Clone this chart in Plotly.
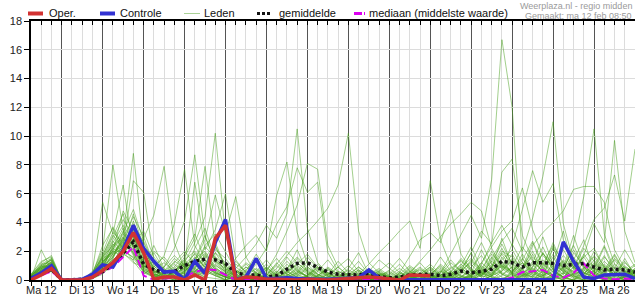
import plotly.graph_objects as go
import pandas as pd

# ---------------- data ----------------
start = "2018-02-12 06:00"
n_steps = 60
step = "6h"

day_labels = ["Ma 12", "Di 13", "Wo 14", "Do 15", "Vr 16", "Za 17", "Zo 18", "Ma 19",
              "Di 20", "Wo 21", "Do 22", "Vr 23", "Za 24", "Zo 25", "Ma 26"]
day_dates = ["2018-02-%02d" % d for d in range(12, 27)]

oper = [0.0, 0.35, 0.8,
        0, 0, 0, 0.2,
        0.65, 1.2, 2.0, 3.3,
        1.9, 0.05, 0.2, 0.2,
        0.0, 0.35, 0.0, 2.9,
        3.8, 0.0, 0.2, 0.15,
        0.05, 0.05, 0, 0,
        0.05, 0, 0, 0.05,
        0.1, 0.15, 0.2, 0.15,
        0.05, 0.0, 0.35, 0.3,
        0.3]

controle = [0.1, 0.5, 1.0,
            0, 0, 0.05, 0.4,
            1.05, 0.9, 2.1, 3.8,
            2.2, 1.3, 0.55, 0.6,
            0.05, 1.3, 0.45, 2.6,
            4.2, 0.05, 0.2, 1.5,
            0.1, 0.1, 0.15, 0.1,
            0.05, 0.05, 0.05, 0.1,
            0.1, 0.15, 0.7, 0.15,
            0.02, 0.02, 0.02, 0.02,
            0.02, 0.02, 0.02, 0.02,
            0.02, 0.02, 0.02, 0.02,
            0.02, 0.02, 0.02, 0.02,
            0.02, 2.65, 1.3, 0.2,
            0.1, 0.35, 0.4, 0.4,
            0.1]

gemiddelde = [0.1, 0.4, 0.75,
              0.0, 0.0, 0.05, 0.25,
              0.6, 1.1, 1.9, 2.65,
              1.1, 0.7, 0.55, 0.6,
              1.0, 1.3, 1.45, 1.4,
              1.15, 0.5, 0.35, 0.35,
              0.2, 0.3, 0.75, 1.15,
              1.2, 0.9, 0.55, 0.4,
              0.4, 0.35, 0.45, 0.25,
              0.15, 0.2, 0.35, 0.4,
              0.4, 0.3, 0.4, 0.62,
              0.5, 0.6, 0.75, 1.3,
              1.2, 0.9, 1.2, 1.2,
              1.15, 1.0, 1.05, 1.15,
              0.9, 0.7, 0.75, 0.7,
              0.55]

mediaan = [0.05, 0.3, 0.6,
           0, 0, 0, 0.15,
           0.5, 0.9, 1.6, 2.3,
           0.3, 0.02, 0.1, 0.15,
           0.2, 0.55, 0.75, 0.7,
           0.35, 0.0, 0.05, 0.05,
           0.0, 0.02, 0.02, 0.02,
           0.02, 0.02, 0.02, 0.02,
           0.02, 0.02, 0.02, 0.02,
           0.02, 0.02, 0.02, 0.02,
           0.02, 0.02, 0.02, 0.02,
           0.03, 0.03, 0.05, 0.05,
           0.15, 0.55, 0.6, 0.7,
           0.3, 0.15, 0.5, 1.15,
           0.3, 0.1, 0.05, 0.1,
           0.05]

leden = [
    [0.2,0.8,1.2, 0,0,0,0.3, 1.5,2.8,4.2,3.1, 1.2,0.4,0.2,0.6, 1.1,1.8,0.9,0.5, 0.2,0,0.1,0.3, 0.1,0,0.4,1.2, 0.6,0.2,0,0, 0.1,0.3,0,0, 0,0.2,0.8,0.3, 0,0,0.5,1.4, 0.6,0.2,1.0,2.2, 0.8,0.3,0,0.6, 1.8,0.7,0.2,0.4, 1.1,0.3,0,0.2, 0.5],
    [0.1,0.6,0.9, 0,0,0,0.5, 2.1,8.0,3.5,1.8, 0.6,0.2,0,0.3, 0.8,0.4,1.5,2.6, 0.9,0.3,0,0, 0,0.2,0,0.1, 0.3,0.8,0.2,0, 0,0,0.1,0.4, 0.2,0,0,0, 0.1,0.6,0.2,0, 0,0.4,1.3,0.8, 2.5,1.2,0.3,0, 0.2,0.9,3.1,1.0, 0.4,0,0.2,1.5, 0.3],
    [0.3,1.0,1.4, 0,0,0,0.2, 0.9,1.6,3.0,8.8, 2.4,0.8,0.3,0, 0.2,0.6,1.2,0.4, 0,0,0.6,1.8, 0.7,0.2,0,0, 0,0.1,0.5,0.2, 0.8,1.9,0.4,0, 0,0,0.2,0, 0,0.3,0.9,0.2, 0.1,0.5,0.2,1.6, 0.4,0,0.9,2.3, 0.8,0.2,0,0.6, 2.0,0.9,0.4,0, 0.1],
    [0.1,0.5,1.1, 0,0,0,0.6, 5.4,3.2,6.6,2.1, 0.9,1.3,0.5,0.1, 0,0.3,0.8,1.9, 1.2,0.4,0.1,0, 0,0.5,1.6,0.7, 0.2,0,0,0.3, 0.1,0,0,0, 0.4,1.1,0.3,0, 0,0,0.2,0.7, 1.9,0.5,0,0.3, 0.9,0.4,0.2,1.2, 0.3,0,1.4,2.8, 0.6,0.1,0,0.3, 0.8],
    [0.4,1.3,1.6, 0,0,0,0.1, 0.6,1.9,2.5,6.9, 6.1,1.4,0.6,0.2, 0.5,1.5,2.0,0.9, 0.3,0.1,0,0.2, 0.9,0.3,0,0, 0,0.6,1.4,0.5, 0,0,0,0.2, 0.1,0,0.5,1.2, 0.4,0,0,0.1, 0.3,1.2,0.6,0, 0,0.7,1.8,0.4, 0.1,0.5,0.2,0.9, 0.3,1.6,0.8,0.2, 0],
    [0.2,0.7,0.8, 0,0,0,0.4, 1.2,2.2,1.8,1.4, 2.9,4.5,7.9,2.6, 0.8,0.3,0.5,1.1, 0.4,0,0,0.3, 0.2,0,0.7,2.1, 0.5,0.1,0,0, 0.3,0.7,0.2,0, 0,0,0,0.3, 0.8,0.2,0,0, 0.5,2.1,0.7,0.2, 0,0.3,0.6,0.1, 1.2,3.4,0.8,0.2, 0,0.4,1.1,0.6, 0.2],
    [0,0.4,0.7, 0,0,0,0.2, 0.8,1.4,2.0,3.3, 1.8,0.9,1.7,3.9, 7.7,2.4,1.1,0.6, 0.2,0.6,0.3,0, 0,0,0.1,0.4, 1.3,0.6,0.2,0, 0,0,0.4,0.1, 0,0.5,0.2,0, 0,0,0.3,0.9, 0.2,0,0,0.6, 1.4,0.5,0.1,0, 0.4,1.1,0.3,0, 0.7,2.3,0.5,0.1, 0.4],
    [0.3,0.9,1.0, 0,0,0,0.3, 1.1,2.6,3.8,2.7, 1.0,0.5,0.9,2.2, 4.1,8.7,3.0,1.3, 0.5,0.1,0,0, 0.3,1.2,0.4,0, 0,0,0.2,0.9, 0.3,0,0,0, 0.2,0.6,0.1,0, 0.4,1.0,0.3,0, 0,0.3,0.9,0.4, 0.1,0,0.5,1.9, 0.7,0.2,0,0.3, 0.9,0.2,0,0.6, 1.1],
    [0.1,0.6,1.3, 0,0,0,0.1, 0.5,1.2,2.4,4.6, 2.2,0.7,0.2,0.5, 1.6,2.9,7.9,2.4, 0.8,0.3,0.1,0, 0,0,0.3,0.8, 0.2,0,0,0.1, 0.5,1.3,0.4,0, 0,0.2,0.7,0.3, 0,0,0,0.4, 1.1,0.3,0.1,0, 0.6,1.5,0.4,0.2, 0,0.8,2.4,0.9, 0.3,0,0.5,1.3, 0.4],
    [0.2,0.5,0.6, 0,0,0,0.4, 1.8,3.1,2.2,1.5, 0.6,0.3,0.1,0.4, 1.2,2.6,4.4,10.2, 3.1,0.9,0.4,0.2, 0,0,0.6,0.2, 0,0.3,0.8,0.2, 0,0,0.1,0.5, 0.3,0,0,0, 0.2,0.8,0.3,0, 0,0.6,2.0,0.8, 0.3,0,0,0.4, 1.6,0.5,0.1,0, 0.2,0.9,0.3,0, 0.2],
    [0.3,1.1,1.5, 0,0,0,0.2, 0.7,1.5,3.4,2.0, 0.8,1.9,0.7,0.3, 1.0,6.8,2.1,3.5, 6.0,1.4,0.5,0.1, 0.4,0,0,0.3, 0.9,0.4,0,0, 0,0.2,0.6,0.2, 0,0,0.3,0.8, 0.3,0,0,0.2, 0.7,0.2,0.4,1.3, 0.5,0.2,1.1,0.3, 0,0.2,0.7,1.6, 0.5,0.1,0,0.2, 0.6],
    [0.1,0.4,0.9, 0,0,0,0.3, 1.3,2.0,1.6,3.6, 1.5,0.4,0,0.2, 0.6,1.3,2.8,5.9, 3.2,5.8,1.6,0.4, 0.1,0,0.2,0.6, 0.3,0,0,0.2, 0.7,0.3,0,0, 0.1,0.4,0,0, 0,0.2,0.6,0.3, 0,0,0.3,0.7, 1.8,0.6,0.2,0, 0.3,1.3,0.4,0.1, 0,0.6,1.7,0.5, 0.1],
    [0.2,0.8,1.1, 0,0,0,0.1, 0.4,1.1,1.9,2.8, 1.2,0.6,0.3,0.8, 1.4,0.7,0.3,1.0, 0.6,1.5,2.4,3.1, 2.0,5.9,8.2,3.3, 1.1,0.4,0.1,0, 0.2,0,0,0.3, 0.5,0.1,0,0, 0,0,0.4,1.1, 0.4,0.9,0.3,0, 0,0.4,1.3,0.6, 0.2,0,0.5,1.8, 0.8,0.3,0.1,0, 0.3],
    [0.3,0.9,1.2, 0,0,0,0.5, 1.6,2.4,3.0,1.7, 0.5,0.2,0.4,1.3, 0.9,0.5,1.8,0.7, 0.3,0.8,1.6,2.5, 3.8,2.9,4.6,10.5, 3.6,1.2,0.5,0.1, 0,0.3,0.1,0, 0,0,0.6,0.2, 0.1,0.4,0,0, 0.3,0,0.8,2.9, 1.0,0.4,0,0.3, 0.6,0.2,0.9,0.4, 1.4,0.5,0,0.2, 0.7],
    [0.1,0.7,1.0, 0,0,0,0.2, 0.9,1.7,2.3,3.9, 2.6,1.0,0.2,0, 0.4,1.1,0.6,0.3, 0,0.2,0.7,1.4, 0.6,1.8,3.4,5.2, 8.1,7.7,2.4,0.9, 0.3,0.1,0,0.4, 0.2,0,0.3,0.1, 0,0.7,0.2,0, 0.2,0.5,1.6,0.4, 0.1,0.8,2.6,0.9, 0.3,0,0.4,0.7, 0.2,1.0,0.4,0, 0.3],
    [0.2,0.6,0.8, 0,0,0,0.3, 1.0,2.0,4.8,3.4, 0.7,0.3,0.1,0.4, 0.8,1.6,0.9,0.5, 0.2,0,0.3,1.1, 2.2,3.9,5.1,7.8, 6.1,6.8,1.9,0.6, 0.2,0,0.5,0.2, 0,0.3,0.1,0, 0,0,0.2,0.6, 1.3,0.5,0.2,0, 0.4,1.2,0.5,0.1, 2.3,0.7,0.2,0, 0.4,0.1,0.9,0.3, 0.5],
    [0.4,1.2,1.7, 0,0,0,0.2, 0.8,2.3,2.9,2.4, 1.1,0.4,0.2,0.6, 1.3,0.6,0.2,0.1, 0,0.3,0.9,0.5, 0.2,0.8,1.7,2.6, 3.3,4.1,5.0,6.6, 10.2,3.4,1.2,0.5, 0.2,0,0,0.4, 0.9,0.3,0,0, 0.2,0.6,0.3,1.0, 0.4,0.1,0,0.7, 2.2,0.8,0.3,0, 0.6,1.7,0.5,0.1, 0.2],
    [0.1,0.5,0.7, 0,0,0,0.4, 1.4,2.7,1.9,1.2, 0.9,2.4,0.8,0.2, 0.5,0.9,1.4,0.6, 0.2,0,0,0.4, 0.9,0.3,0.1,0.5, 1.6,0.8,0.3,0, 0,0.4,1.1,1.9, 2.6,3.4,4.1,2.2, 6.9,2.8,1.0,0.3, 0.1,0,0.3,1.2, 0.5,0.2,0.6,1.9, 0.7,0.1,0,0.4, 1.2,0.4,0,0.3, 0.6],
    [0.2,0.8,1.0, 0,0,0,0.1, 0.6,1.3,2.1,4.1, 1.9,0.6,0.2,0, 0.3,0.8,1.7,0.7, 0.3,0.1,0,0.2, 0,0.4,0.9,0.3, 0.1,0,0.2,0.6, 0.3,0,0,0.2, 0.7,1.5,0.6,0.1, 0,0.5,1.8,3.2, 4.5,2.9,7.0,16.7, 12.0,1.5,0.6,0.2, 0,0.4,1.6,0.5, 0.2,0,0.8,2.1, 0.9],
    [0.3,1.0,1.4, 0,0,0,0.3, 1.1,2.2,3.6,2.3, 0.8,0.3,0.6,1.5, 0.9,0.4,1.0,2.3, 1.0,0.2,0,0, 0.3,1.0,0.4,0.1, 0,0.2,0.7,0.3, 0,0,0.4,0.8, 0.3,0,0,0.5, 1.1,0.4,0.1,0.6, 1.9,3.4,2.5,7.5, 8.4,3.1,1.4,0.6, 0.2,0.9,2.1,0.8, 0.3,0,0.4,1.0, 0.4],
    [0.1,0.3,0.6, 0,0,0,0.2, 0.7,1.0,2.7,3.1, 1.4,0.5,0.1,0.3, 0.7,1.9,0.8,0.3, 0,0.4,1.1,0.5, 0.1,0,0.3,0.9, 0.4,0.1,0,0, 0.2,0.6,0.3,0, 0,0.1,0.5,0.2, 0,0.3,1.2,0.6, 0.2,1.1,2.6,3.8, 2.4,4.9,7.6,5.4, 6.7,2.8,0.9,0.3, 0.1,0.6,1.4,0.5, 0.2],
    [0.2,0.7,1.3, 0,0,0,0.4, 1.7,3.3,2.6,1.9, 0.6,0.2,0.5,0.9, 1.8,3.2,1.4,0.5, 0.2,0,0,0.3, 0.6,0.2,0,0, 0.3,1.1,0.4,0.1, 0,0,0.2,0.5, 0.1,0,0.4,0.9, 0.3,0,0,0.2, 0.6,0.3,1.5,2.7, 3.6,2.0,4.3,7.2, 11.0,3.9,1.3,0.5, 0.9,2.4,0.8,0.2, 0.5],
    [0.3,0.9,1.1, 0,0,0,0.2, 0.9,1.8,2.8,4.4, 3.0,1.1,0.4,0.1, 0.3,0.7,2.3,1.6, 0.6,0.2,0.1,0.6, 1.4,0.5,0,0.2, 0.8,0.3,0,0, 0.1,0.5,0.2,0, 0,0,0.3,0.1, 0.5,1.6,0.6,0, 0,0.4,0.9,1.8, 0.7,0.3,1.2,3.0, 1.1,0.6,2.5,5.8, 10.5,3.2,1.1,0.4, 0.2],
    [0.1,0.6,1.0, 0,0,0,0.3, 1.3,2.5,1.7,2.9, 1.7,0.7,0.2,0.5, 1.1,0.5,0.2,0.8, 0.4,1.3,0.5,0, 0,0.3,1.1,0.4, 0.1,0,0.4,1.3, 0.5,0.2,0,0, 0.3,0.8,0.3,0, 0,0,0.4,1.0, 2.3,0.8,0.3,0.6, 1.5,0.5,0.2,0.9, 2.6,1.0,0.4,1.7, 3.9,2.6,9.7,3.4, 1.2],
    [0.2,0.5,0.8, 0,0,0,0.1, 0.5,1.4,2.0,3.5, 2.1,0.8,0.3,0.2, 0.6,1.4,3.1,1.2, 0.5,0.1,0,0, 0.2,0.6,0.2,0, 0,0.3,0.9,0.4, 0.1,0,0.3,0.7, 0.2,0,0,0.3, 0.7,0.2,0,0.5, 1.4,0.6,0.2,0, 0.5,1.8,0.7,0.3, 1.0,2.1,0.9,2.4, 4.2,5.0,7.3,4.1, 9.1],
    [0.3,1.1,1.2, 0,0,0,0.5, 1.9,3.7,2.3,1.3, 0.4,0.9,1.6,0.7, 0.2,0.6,1.1,0.5, 0.2,0.7,0.3,0, 0,0,0.5,1.5, 0.7,0.2,0,0, 0.4,0.9,0.3,0, 0,0.2,0.6,0.2, 0,0,0.3,0.8, 0.3,1.0,0.4,1.9, 1.2,0.5,2.4,3.3, 4.0,4.8,6.3,6.5, 6.5,5.4,2.1,0.8, 0.4],
    [0.1,2.1,0.7, 0,0,0,0.2, 1.0,2.1,3.2,2.5, 1.3,0.5,0.1,0.6, 1.2,0.8,0.4,1.5, 0.7,0.2,0,0.4, 0.8,0.3,0,0, 0.2,0.7,0.3,0, 0,0.3,0.8,0.4, 0.1,0,0.5,1.3, 2.1,3.0,3.9,4.6, 5.4,4.8,2.2,0.9, 0.4,0.1,0.6,1.4, 0.5,0.2,0,0.8, 1.6,0.6,0.2,0, 0.3],
    [0.2,0.6,0.9, 0,0,0,0.3, 1.5,1.9,2.4,3.8, 1.6,0.6,0.4,1.1, 0.5,0.2,0.7,1.9, 0.8,0.3,0.1,0, 0.1,0.5,1.3,0.6, 0.2,0,0,0.4, 1.0,0.4,0.1,0, 0,0.5,1.7,2.8, 3.3,2.6,4.9,1.8, 0.7,0.3,1.1,0.5, 0.2,0.9,2.0,0.7, 0.3,0.1,0.4,1.2, 0.6,0.2,0.5,0.9, 0.2],
    [0.3,0.8,1.5, 0,0,0,0.2, 0.8,1.6,2.9,3.0, 1.0,0.3,0,0.3, 0.9,1.2,0.6,0.3, 0.1,0.5,1.2,0.7, 0.3,0,0.2,0.5, 0.3,0.9,0.4,0.1, 0,0,0.3,0.6, 0.2,0,0.1,0.4, 0.9,0.3,0,0, 0.4,1.2,2.3,3.4, 4.1,6.4,3.5,1.7, 0.9,0.4,1.1,0.5, 0.2,0.7,1.8,0.6, 0.2],
    [0.1,0.5,0.9, 0,0,0,0.3, 1.2,2.0,2.6,1.9, 0.7,0.4,0.2,0.5, 0.8,1.3,0.7,0.4, 0.2,0,0.3,0.8, 0.4,0.2,0.6,1.0, 0.5,0.2,0,0, 0,0.4,0.2,0, 0,0.3,0.2,0, 0.2,0.6,0.4,0.1, 0.3,0.7,0.5,1.1, 0.6,0.3,0.8,0.5, 0.4,0.9,0.6,0.3, 0.5,0.8,0.4,0.6, 0.3],
    [0.2,0.9,1.4, 0,0,0,0.4, 1.6,3.0,4.6,2.2, 0.9,0.3,0.6,1.2, 2.0,1.1,0.5,1.3, 0.8,0.2,0,0.5, 1.1,0.4,0.1,0, 0.3,0.9,0.5,0.1, 0,0.2,0.6,1.4, 0.8,0.3,0,0, 0.4,0.9,0.3,0.7, 1.2,2.6,1.1,0.4, 0.9,2.3,1.3,0.6, 0.2,0.5,1.9,1.0, 0.4,1.3,0.6,0.2, 0.8],
    [0.1,0.7,1.1, 0,0,0,0.2, 0.9,2.4,3.3,4.9, 2.7,1.2,0.4,0.2, 0.5,2.2,3.6,1.4, 0.6,0.3,0.9,0.4, 0.1,0,0.3,0.7, 0.2,0,0.4,0.9, 1.5,0.6,0.2,0, 0,0.4,1.0,0.5, 0.2,0,0.6,1.5, 0.8,0.3,0.9,2.0, 1.6,0.7,0.3,1.1, 2.4,1.2,0.5,0.2, 0.9,0.4,1.5,0.7, 0.3],
    [0.3,1.0,0.9, 0,0,0,0.3, 1.3,1.8,2.2,3.0, 1.8,0.8,1.2,0.6, 1.4,2.0,1.2,2.1, 1.5,0.6,0.2,0, 0.4,1.1,2.0,1.2, 0.6,0.2,0,0.2, 0.5,0.2,0,0.3, 0.6,0.2,0,0, 0.3,1.1,0.5,0.2, 0.9,1.7,0.7,1.4, 2.1,0.9,1.6,0.8, 0.3,1.4,0.8,2.2, 1.3,0.5,0.2,0.9, 0.6],
    [0.2,0.4,0.7, 0,0,0,0.1, 0.6,1.5,2.8,2.3, 1.1,2.0,1.4,0.5, 0.3,0.9,2.4,3.2, 1.9,0.7,0.3,0.1, 0,0.3,0.8,1.6, 0.9,0.4,0.1,0, 0.2,0.7,0.3,0.1, 0,0.2,0.9,0.4, 0.1,0.5,1.4,0.6, 0.3,0.8,1.8,1.0, 0.5,1.4,2.7,1.1, 0.6,0.2,0.9,1.6, 2.2,0.9,0.4,1.2, 0.5],
    [0.1,0.6,1.2, 0,0,0,0.4, 2.4,3.6,2.0,1.6, 0.8,0.5,0.9,1.7, 1.0,0.4,0.8,1.6, 1.0,0.4,0.1,0.3, 0.7,1.5,0.6,0.2, 0,0.3,0.8,0.4, 0.1,0,0.2,0.6, 1.2,0.5,0.2,0, 0,0.3,0.8,1.3, 0.7,0.4,1.3,2.5, 1.1,0.5,0.9,1.8, 1.2,0.6,0.3,0.8, 1.7,0.8,0.3,0.5, 1.0],
    [0.3,0.8,1.0, 0,0,0,0.2, 0.7,1.2,1.9,2.6, 3.4,1.6,0.7,0.3, 0.6,1.1,1.9,0.8, 0.4,1.1,0.6,0.2, 0,0.2,0.5,1.1, 1.8,0.9,0.3,0, 0.3,0.9,0.4,0.2, 0,0,0.4,0.7, 0.4,0.1,0.3,0.9, 1.5,0.7,0.4,1.0, 0.6,1.2,0.6,0.3, 0.8,1.7,0.9,0.4, 0.6,1.1,0.5,0.3, 0.7],
]

for k, m in enumerate(leden):
    assert len(m) == n_steps, "member %d has %d values" % (k, len(m))

times = pd.date_range(start, periods=n_steps, freq=step)

# ---------------- layout helpers (pixels -> paper) ----------------
W, H = 635, 300
L, R, T, B = 31, 0, 21, 20
PW, PH = W - L - R, H - T - B


def px(xp):
    return (xp - L) / PW


def py(yp):
    return (H - B - yp) / PH


FONT = "Liberation Sans, Arial, sans-serif"

fig = go.Figure()

# ensemble members
for m in leden:
    fig.add_trace(go.Scatter(x=times, y=m, mode="lines",
                             line=dict(color="rgba(70,160,25,0.5)", width=1),
                             hoverinfo="skip", showlegend=False))

fig.add_trace(go.Scatter(x=times, y=mediaan, mode="lines", name="mediaan",
                         line=dict(color="rgb(220,0,240)", width=2, dash="8px,4px"),
                         showlegend=False))
fig.add_trace(go.Scatter(x=times, y=gemiddelde, mode="lines", name="gemiddelde",
                         line=dict(color="rgb(20,20,20)", width=3.5, dash="3px,3px"),
                         showlegend=False))
fig.add_trace(go.Scatter(x=times, y=controle, mode="lines", name="Controle",
                         line=dict(color="rgb(50,50,210)", width=3.5),
                         showlegend=False))
fig.add_trace(go.Scatter(x=times[:len(oper)], y=oper, mode="lines", name="Oper.",
                         line=dict(color="rgb(210,50,50)", width=3.5),
                         showlegend=False))
# helper trace for the top axis
fig.add_trace(go.Scatter(x=[times[0]], y=[None], xaxis="x2", mode="lines",
                         hoverinfo="skip", showlegend=False))

x_range = [times[0], pd.Timestamp("2018-02-27 00:00")]

fig.update_layout(
    width=W, height=H,
    margin=dict(l=L, r=R, t=T, b=B, pad=0),
    paper_bgcolor="white", plot_bgcolor="white",
    font=dict(family=FONT, size=11, color="#222"),
    xaxis=dict(
        type="date", range=x_range,
        tickmode="linear", tick0="2018-02-12 00:00", dtick=86400000,
        showticklabels=False, ticks="outside", ticklen=4, tickcolor="black",
        showgrid=True, gridcolor="#555", gridwidth=1,
        minor=dict(dtick=21600000, tick0="2018-02-12 00:00", ticks="outside",
                   ticklen=4, tickcolor="black", showgrid=True,
                   gridcolor="#dcdcdc", gridwidth=1),
        showline=True, linecolor="black", linewidth=1.5, zeroline=False,
    ),
    xaxis2=dict(
        type="date", range=x_range, overlaying="x", side="top",
        tickmode="linear", tick0="2018-02-12 00:00", dtick=21600000,
        showticklabels=False, ticks="inside", ticklen=4, tickcolor="black",
        showgrid=False, showline=True, linecolor="black", linewidth=1.5,
        zeroline=False,
    ),
    yaxis=dict(
        range=[0, 18], tickmode="linear", tick0=0, dtick=2,
        ticks="outside", ticklen=5, tickcolor="black",
        showgrid=True, gridcolor="#dcdcdc", gridwidth=1,
        showline=True, linecolor="black", linewidth=1.5, zeroline=False,
        tickfont=dict(size=11, color="#222"),
    ),
)

# day labels centred at noon
for d, lab in zip(day_dates, day_labels):
    fig.add_annotation(x=pd.Timestamp(d + " 12:00"), xref="x", y=py(290), yref="paper",
                       text=lab, showarrow=False, xanchor="center", yanchor="middle",
                       font=dict(size=11, color="#222"))

# manual legend
legend_items = [
    ("Oper.", 28, 43, 47, dict(color="rgb(210,50,50)", width=4)),
    ("Controle", 100, 115, 118, dict(color="rgb(50,50,210)", width=4)),
    ("Leden", 184, 200, 202, dict(color="rgb(170,210,150)", width=1)),
    ("gemiddelde", 257, 272, 277, dict(color="rgb(20,20,20)", width=3, dash="3px,2px")),
    ("mediaan (middelste waarde)", 354, 365, 367, dict(color="rgb(220,0,240)", width=3, dash="8px,2px,2px,2px")),
]
for text, x0, x1, xt, ln in legend_items:
    fig.add_shape(type="line", xref="paper", yref="paper",
                  x0=px(x0), x1=px(x1), y0=py(13.5), y1=py(13.5), line=ln)
    fig.add_annotation(x=px(xt), y=py(13.5), xref="paper", yref="paper", text=text,
                       showarrow=False, xanchor="left", yanchor="middle",
                       font=dict(size=11, color="#111"))

fig.add_annotation(x=px(634), y=py(5.5), xref="paper", yref="paper",
                   text="Weerplaza.nl - regio midden", showarrow=False,
                   xanchor="right", yanchor="middle", font=dict(size=9, color="#9a9a9a"))
fig.add_annotation(x=px(634), y=py(16), xref="paper", yref="paper",
                   text="Gemaakt: ma 12 feb 08:50", showarrow=False,
                   xanchor="right", yanchor="middle", font=dict(size=9, color="#9a9a9a"))

fig.write_html("out.html")
